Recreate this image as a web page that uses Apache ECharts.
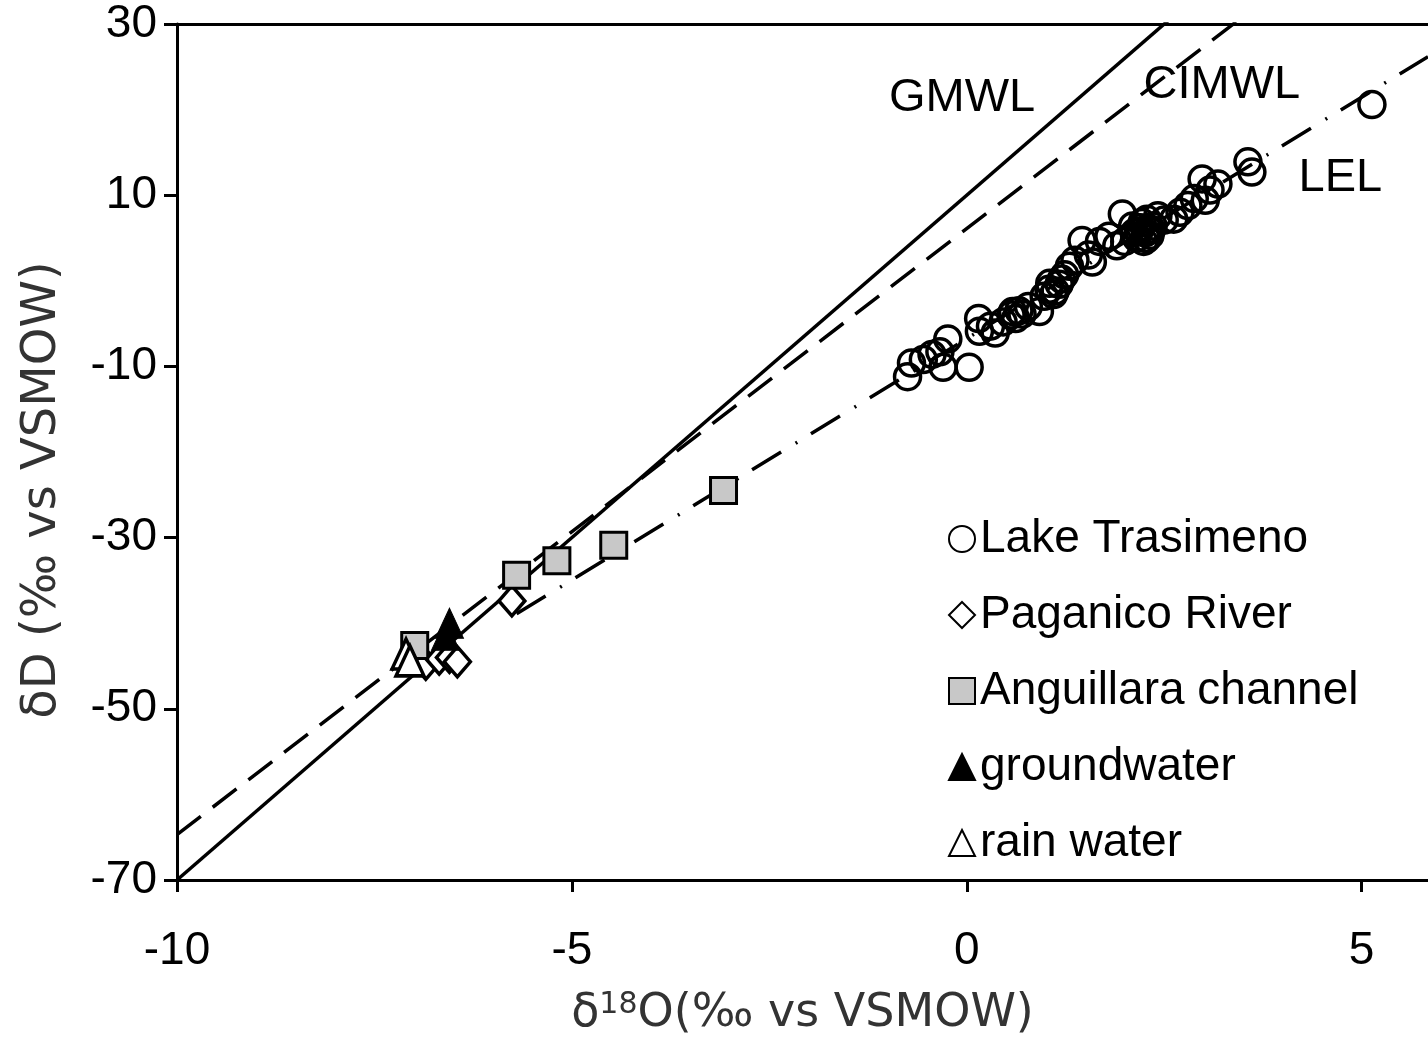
<!DOCTYPE html>
<html>
<head>
<meta charset="utf-8">
<script src="https://cdn.jsdelivr.net/npm/echarts@6/dist/echarts.min.js"></script>
<style>
  html, body { margin: 0; padding: 0; background: #fff; }
  #isotope-chart { width: 1428px; height: 1042px; }
</style>
</head>
<body>
<div id="isotope-chart"></div>
<script>
// Lake Trasimeno samples (δ18O, δD)
const lakeO = [-0.75, -0.70, -0.55, -0.44, -0.34, -0.30, -0.24, 0.03, 0.15, 0.16, 0.30, 0.36, 0.46, 0.56, 0.58, 0.62, 0.66, 0.70, 0.78, 0.92, 0.98, 1.04, 1.05, 1.10, 1.12, 1.17, 1.20, 1.24, 1.30, 1.37, 1.46, 1.54, 1.59, 1.68, 1.80, 1.90, 1.97, 2.00, 2.10, 2.12, 2.15, 2.18, 2.20, 2.22, 2.24, 2.26, 2.28, 2.28, 2.30, 2.32, 2.34, 2.36, 2.42, 2.50, 2.62, 2.70, 2.80, 2.88, 2.98, 3.02, 3.08, 3.18, 3.56, 3.61, 5.13];
const lakeD = [-11.2, -9.6, -9.2, -8.6, -8.3, -10.1, -6.8, -10.1, -4.4, -5.9, -5.3, -6.1, -4.8, -4.0, -3.6, -4.4, -3.5, -3.9, -3.0, -3.6, -1.8, -1.0, -0.3, -1.6, -1.2, -0.4, 0.2, 0.7, 1.7, 2.4, 4.7, 3.0, 2.2, 4.6, 5.2, 4.1, 7.8, 4.6, 6.4, 5.6, 5.0, 5.8, 6.2, 6.8, 4.6, 5.6, 7.2, 4.9, 6.0, 5.3, 6.0, 6.4, 7.6, 7.1, 7.2, 8.0, 8.8, 9.6, 11.9, 9.4, 10.6, 11.3, 13.9, 12.7, 20.6];

const paganicoO = [-5.76, -6.85, -6.68, -6.55, -6.45];
const paganicoD = [-37.4, -44.8, -44.2, -44.0, -44.5];

const anguillaraO = [-3.08, -4.47, -5.19, -5.70, -6.99];
const anguillaraD = [-24.5, -30.9, -32.7, -34.4, -42.6];

const groundO = [-6.55, -6.60];
const groundD = [-40.0, -41.4];

const rainO = [-7.10, -7.05];
const rainD = [-43.6, -44.4];

// reference lines: δD = slope * δ18O + intercept, drawn from xStart to xEnd
const lineNames = ['GMWL', 'CIMWL', 'LEL'];
const lineSlopes = [8, 7.08, 5.64];
const lineIntercepts = [10, 6.1, -6.75];
const lineStart = [-10, -10, -5.7];
const lineEnd = [5.84, 5.84, 5.84];

// where the line names sit (data coords)
const lineLabelO = [-0.06, 3.23, 4.73];
const lineLabelD = [21.3, 22.9, 12.0];

const xTicks = [-10, -5, 0, 5];
const yTicks = [-70, -50, -30, -10, 10, 30];

const pairs = (xs, ys) => xs.map((x, i) => [x, ys[i]]);

const chart = echarts.init(document.getElementById('isotope-chart'));

const lineTypes = ['solid', [30, 15], [34, 17, 2, 16]];
const lineSeries = lineNames.map((name, i) => ({
  name: name,
  type: 'line',
  silent: true,
  showSymbol: false,
  symbol: 'none',
  clip: true,
  z: 1,
  lineStyle: { color: '#000', width: 3.5, type: lineTypes[i] },
  data: [lineStart[i], lineEnd[i]].map(x => [x, lineSlopes[i] * x + lineIntercepts[i]])
}));

const option = {
  animation: false,
  backgroundColor: '#fff',
  grid: { left: 177, right: 0, top: 24, bottom: 162 },
  legend: {
    orient: 'vertical',
    left: 943,
    top: 510,
    itemWidth: 26,
    itemHeight: 26,
    itemGap: 28,
    data: ['Lake Trasimeno', 'Paganico River', 'Anguillara channel', 'groundwater', 'rain water'],
    textStyle: { fontFamily: 'Liberation Sans', fontSize: 46, lineHeight: 48, color: '#000' }
  },
  xAxis: [{
    type: 'value',
    min: -10,
    max: 5.84,
    position: 'bottom',
    splitLine: { show: false },
    axisLine: { onZero: false, lineStyle: { color: '#000', width: 3 } },
    axisTick: { show: true, length: 12, lineStyle: { width: 3 }, customValues: xTicks },
    axisLabel: { customValues: xTicks, margin: 48, color: '#000', fontFamily: 'Liberation Sans', fontSize: 46 },
    name: '{a|δ}{s|18}{a|O(‰ vs VSMOW)}',
    nameLocation: 'middle',
    nameGap: 110,
    nameTextStyle: {
      rich: {
        a: { fontFamily: 'DejaVu Sans', fontSize: 46, color: '#333' },
        s: { fontFamily: 'DejaVu Sans', fontSize: 30, color: '#333', verticalAlign: 'top', padding: [0, 0, 18, 0] }
      }
    }
  }, {
    type: 'value',
    min: -10,
    max: 5.84,
    position: 'top',
    axisLine: { show: true, onZero: false, lineStyle: { color: '#000', width: 3 } },
    axisTick: { show: false },
    axisLabel: { show: false },
    splitLine: { show: false }
  }],
  yAxis: {
    type: 'value',
    min: -70,
    max: 30,
    splitLine: { show: false },
    axisLine: { show: true, onZero: false, lineStyle: { color: '#000', width: 3 } },
    axisTick: { show: true, length: 13, lineStyle: { width: 3 }, customValues: yTicks },
    axisLabel: { customValues: yTicks, margin: 20, color: '#000', fontFamily: 'Liberation Sans', fontSize: 46 },
    name: 'δD (‰ vs VSMOW)',
    nameLocation: 'middle',
    nameGap: 110,
    nameTextStyle: { fontFamily: 'DejaVu Sans', fontSize: 48, color: '#333', padding: [0, 76, 0, 0] }
  },
  series: [
    ...lineSeries,
    {
      name: 'lineLabels',
      type: 'scatter',
      silent: true,
      symbolSize: 0,
      z: 2,
      itemStyle: { opacity: 1 },
      label: {
        show: true,
        position: 'inside',
        formatter: '{b}',
        color: '#000',
        fontFamily: 'Liberation Sans',
        fontSize: 47
      },
      data: lineNames.map((n, i) => ({ name: n, value: [lineLabelO[i], lineLabelD[i]] }))
    },
    {
      name: 'Lake Trasimeno',
      type: 'scatter',
      symbol: 'circle',
      symbolSize: 26,
      z: 3,
      itemStyle: { color: 'rgba(0,0,0,0)', borderColor: '#000', borderWidth: 3.5, opacity: 1 },
      data: pairs(lakeO, lakeD)
    },
    {
      name: 'Paganico River',
      type: 'scatter',
      symbol: 'diamond',
      symbolSize: [26, 30],
      z: 3,
      itemStyle: { color: '#fff', borderColor: '#000', borderWidth: 3.5, opacity: 1 },
      data: pairs(paganicoO, paganicoD)
    },
    {
      name: 'Anguillara channel',
      type: 'scatter',
      symbol: 'rect',
      symbolSize: 26,
      z: 3,
      itemStyle: { color: '#c8c8c8', borderColor: '#000', borderWidth: 3, opacity: 1 },
      data: pairs(anguillaraO, anguillaraD)
    },
    {
      name: 'groundwater',
      type: 'scatter',
      symbol: 'triangle',
      symbolSize: [28, 30],
      z: 3,
      itemStyle: { color: '#000', borderColor: '#000', borderWidth: 1, opacity: 1 },
      data: pairs(groundO, groundD)
    },
    {
      name: 'rain water',
      type: 'scatter',
      symbol: 'triangle',
      symbolSize: [28, 30],
      z: 3,
      itemStyle: { color: '#fff', borderColor: '#000', borderWidth: 3.5, opacity: 1 },
      data: pairs(rainO, rainD)
    }
  ]
};

chart.setOption(option);
</script>
</body>
</html>
